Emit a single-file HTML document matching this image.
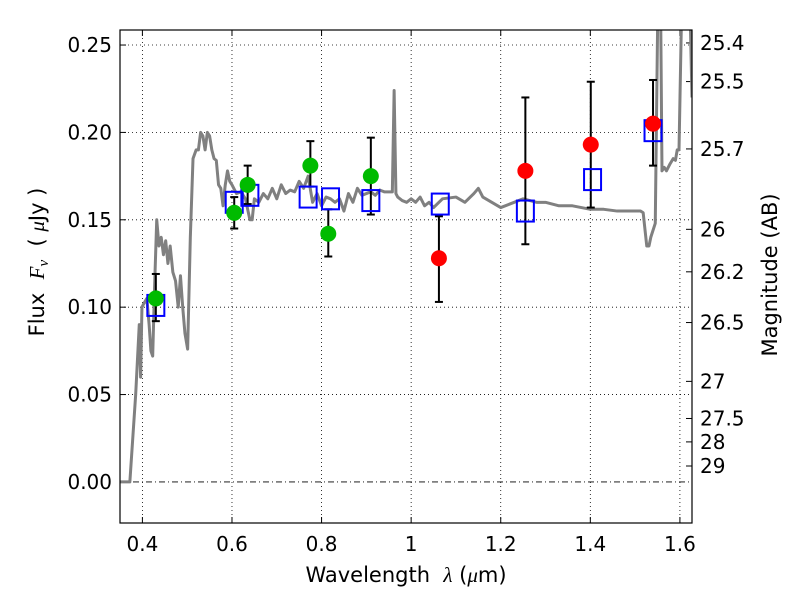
<!DOCTYPE html>
<html><head><meta charset="utf-8"><style>
body{margin:0;background:#fff;}
svg text{font-family:"DejaVu Sans","Liberation Sans",sans-serif;fill:#000;}
</style></head><body>
<svg id="chart" width="800" height="600" xmlns="http://www.w3.org/2000/svg"></svg>
<script>
const specWave=[0.35,0.372,0.385,0.393,0.396,0.399,0.403,0.41,0.415,0.419,0.423,0.427,0.432,0.437,0.442,0.447,0.452,0.457,0.462,0.468,0.474,0.48,0.485,0.49,0.495,0.501,0.507,0.513,0.52,0.525,0.53,0.535,0.54,0.545,0.55,0.555,0.56,0.565,0.57,0.575,0.58,0.585,0.59,0.595,0.6,0.61,0.62,0.63,0.64,0.645,0.65,0.66,0.67,0.68,0.69,0.7,0.71,0.72,0.73,0.74,0.75,0.76,0.77,0.78,0.79,0.8,0.81,0.82,0.83,0.84,0.85,0.86,0.87,0.88,0.89,0.9,0.91,0.92,0.93,0.94,0.95,0.958,0.962,0.966,0.97,0.98,0.99,1.0,1.01,1.02,1.03,1.04,1.05,1.07,1.1,1.12,1.14,1.15,1.16,1.18,1.2,1.22,1.25,1.28,1.3,1.33,1.36,1.4,1.43,1.46,1.49,1.505,1.512,1.518,1.526,1.531,1.535,1.545,1.552,1.556,1.56,1.565,1.57,1.578,1.585,1.59,1.594,1.598,1.606,1.612,1.62,1.627];
const specFlux=[0,0,0.05,0.09,0.06,0.1,0.102,0.105,0.09,0.075,0.072,0.11,0.15,0.135,0.14,0.13,0.138,0.125,0.135,0.12,0.115,0.1,0.118,0.1,0.085,0.076,0.14,0.185,0.19,0.19,0.2,0.198,0.19,0.2,0.198,0.19,0.185,0.184,0.17,0.168,0.158,0.17,0.178,0.172,0.17,0.165,0.166,0.162,0.15,0.15,0.162,0.16,0.165,0.162,0.168,0.162,0.17,0.165,0.167,0.166,0.172,0.168,0.175,0.16,0.165,0.158,0.163,0.162,0.16,0.162,0.155,0.165,0.16,0.168,0.164,0.165,0.166,0.164,0.167,0.166,0.166,0.166,0.224,0.165,0.163,0.161,0.16,0.162,0.16,0.163,0.158,0.16,0.157,0.162,0.163,0.16,0.165,0.168,0.163,0.16,0.157,0.159,0.162,0.16,0.16,0.158,0.158,0.156,0.156,0.155,0.155,0.155,0.155,0.154,0.135,0.135,0.14,0.148,0.3,0.3,0.178,0.18,0.178,0.182,0.185,0.184,0.19,0.19,0.3,0.3,0.3,0.22,0.2];
const greenWave=[0.43,0.605,0.635,0.775,0.815,0.91];
const greenFlux=[0.105,0.154,0.170,0.181,0.142,0.175];
const greenLo=[0.092,0.145,0.159,0.169,0.129,0.153];
const greenHi=[0.119,0.163,0.181,0.195,0.156,0.197];
const redWave=[1.062,1.255,1.401,1.54];
const redFlux=[0.128,0.178,0.193,0.205];
const redLo=[0.103,0.136,0.157,0.181];
const redHi=[0.152,0.220,0.229,0.230];
const modelWave=[0.43,0.605,0.64,0.77,0.82,0.91,1.065,1.255,1.405,1.54];
const modelFlux=[0.101,0.160,0.164,0.163,0.162,0.161,0.159,0.155,0.173,0.201];
const xTicks=[0.4,0.6,0.8,1.0,1.2,1.4,1.6];
const xTickLabels=["0.4","0.6","0.8","1","1.2","1.4","1.6"];
const yTicks=[0,0.05,0.10,0.15,0.20,0.25];
const yTickLabels=["0.00","0.05","0.10","0.15","0.20","0.25"];
const magTicks=[25.4,25.5,25.7,26,26.2,26.5,27,27.5,28,29];
const magTickLabels=["25.4","25.5","25.7","26","26.2","26.5","27","27.5","28","29"];

const L=120,R=692,T=30,B=523,X0=0.35,X1=1.627,Y0=-0.0235,Y1=0.2586;
const sx=v=>L+(v-X0)/(X1-X0)*(R-L);
const sy=v=>B-(v-Y0)/(Y1-Y0)*(B-T);
const magToFlux=m=>Math.pow(10,(23.9-m)/2.5);
const svg=document.getElementById('chart');
const NS='http://www.w3.org/2000/svg';
function mk(tag,attrs,parent){const e=document.createElementNS(NS,tag);for(const k in attrs)e.setAttribute(k,attrs[k]);(parent||svg).appendChild(e);return e;}

const clip=mk('clipPath',{id:'pc'});mk('rect',{x:L,y:T,width:R-L,height:B-T},clip);

xTicks.forEach((v,i)=>{
  const g=mk('line',{x1:sx(v),x2:sx(v),y1:T,y2:B,stroke:'#000','stroke-width':0.8,'stroke-dasharray':'1,3'});
  
  
  const t1=mk('line',{x1:sx(v),x2:sx(v),y1:B,y2:B-6,stroke:'#000'});
  
  
  mk('line',{x1:sx(v),x2:sx(v),y1:T,y2:T+6,stroke:'#000'});
  const t=mk('text',{x:sx(v),y:B+28,'text-anchor':'middle','font-size':20});
  t.textContent=xTickLabels[i];
  
  
});
yTicks.forEach((v,i)=>{
  const g=mk('line',{x1:L,x2:R,y1:sy(v),y2:sy(v),stroke:'#000','stroke-width':0.8,'stroke-dasharray':v===0?'6,3,1,3':'1,3'});
  
  
  mk('line',{x1:L,x2:L+6,y1:sy(v),y2:sy(v),stroke:'#000'});
  const t=mk('text',{x:L-8,y:sy(v)+7,'text-anchor':'end','font-size':20});
  t.textContent=yTickLabels[i];
  
  
});
magTicks.forEach((m,i)=>{
  const y=sy(magToFlux(m));
  const tk=mk('line',{x1:R,x2:R-6,y1:y,y2:y,stroke:'#000'});
  
  
  const t=mk('text',{x:R+8,y:y+7,'font-size':20});
  t.textContent=magTickLabels[i];
  
  
});

const spec=mk('polyline',{points:specWave.map((w,i)=>sx(w)+','+sy(specFlux[i])).join(' '),fill:'none',stroke:'#808080','stroke-width':3,'clip-path':'url(#pc)','stroke-linejoin':'round'});



function errbars(ws,lo,hi,name){ws.forEach((w,i)=>{
  const g=mk('g',{stroke:'#000','stroke-width':2});
  
  
  mk('line',{x1:sx(w),x2:sx(w),y1:sy(lo[i]),y2:sy(hi[i])},g);
  mk('line',{x1:sx(w)-4,x2:sx(w)+4,y1:sy(lo[i]),y2:sy(lo[i])},g);
  mk('line',{x1:sx(w)-4,x2:sx(w)+4,y1:sy(hi[i]),y2:sy(hi[i])},g);
});}
errbars(greenWave,greenLo,greenHi,'green-error-bar');
errbars(redWave,redLo,redHi,'red-error-bar');

modelWave.forEach((w,i)=>{
  const r=mk('rect',{x:sx(w)-8.5,y:sy(modelFlux[i])-10.5,width:17,height:21,fill:'none',stroke:'#0000ff','stroke-width':2});
  
  
});
greenWave.forEach((w,i)=>{
  const c=mk('circle',{cx:sx(w),cy:sy(greenFlux[i]),r:8,fill:'#00bb00'});
  
  
});
redWave.forEach((w,i)=>{
  const c=mk('circle',{cx:sx(w),cy:sy(redFlux[i]),r:8,fill:'#ff0000'});
  
  
});

const fr=mk('rect',{x:L,y:T,width:R-L,height:B-T,fill:'none',stroke:'#000','stroke-width':1.2});



const xl=mk('text',{x:406,y:582,'text-anchor':'middle','font-size':21});
xl.innerHTML='Wavelength&#160;&#160;<tspan font-family="Liberation Serif" font-style="italic">λ</tspan> (<tspan font-family="Liberation Serif" font-style="italic">μ</tspan>m)';


const yl=mk('text',{x:0,y:0,'text-anchor':'middle','font-size':21,transform:'translate(44,262) rotate(-90)'});
yl.innerHTML='Flux&#160;&#160;<tspan font-family="Liberation Serif" font-style="italic">F</tspan><tspan font-family="Liberation Serif" font-style="italic" font-size="15" dy="4">ν</tspan><tspan dy="-4">&#160;&#160;( </tspan><tspan font-family="Liberation Serif" font-style="italic">μ</tspan>Jy )';


const ml=mk('text',{x:0,y:0,'text-anchor':'middle','font-size':21,transform:'translate(777,275) rotate(-90)'});
ml.textContent='Magnitude (AB)';


</script>
</body></html>
